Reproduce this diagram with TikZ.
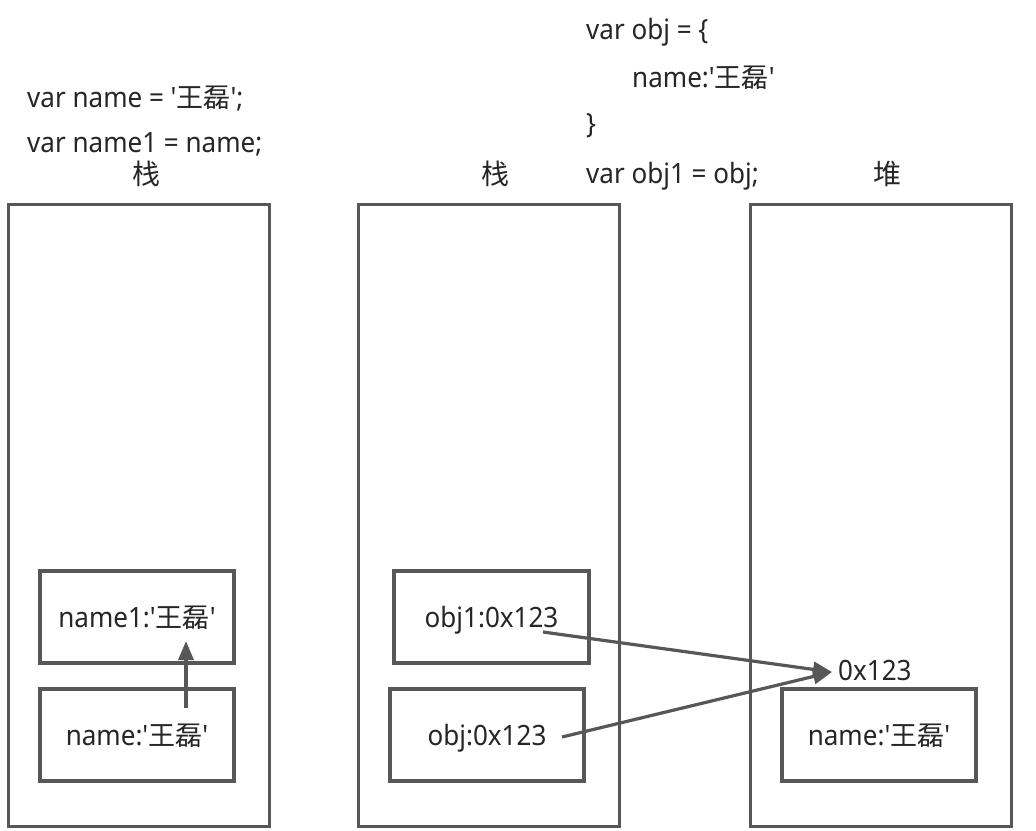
\documentclass[tikz,border=0pt]{standalone}
\usepackage{fontspec}
\setmainfont{Noto Sans}[Ligatures=TeXOff,FakeStretch=0.93]
\newfontfamily\cjk{Noto Sans CJK SC}[Ligatures=TeXOff]
\newcommand\wl{{\cjk\fontsize{27}{30}\selectfont 王磊}}
\usetikzlibrary{arrows.meta}
\definecolor{linegray}{HTML}{575757}
\definecolor{txt}{HTML}{262626}
\begin{document}
\begin{tikzpicture}[x=1pt,y=-1pt,
  every node/.style={text=txt,font=\fontsize{28}{32}\selectfont,inner sep=0pt},
  area/.style={draw=linegray,line width=3.2pt,rectangle,anchor=north west,minimum width=261pt,minimum height=622pt},
  cell/.style={draw=linegray,line width=3.2pt,rectangle,minimum width=194pt,minimum height=92pt,text height=25pt,text depth=5pt},
  code/.style={anchor=base west},
  title/.style={anchor=base,font=\cjk\fontsize{28}{32}\selectfont},
  ptr/.style={draw=linegray,line width=3.2pt,-{Triangle[length=19pt,width=15pt]}}]
\useasboundingbox[fill=white] (0,0) rectangle (1036,830);
% big areas
\node[area] (stackA) at (7,203) {};
\node[area] (stackB) at (357,203) {};
\node[area] (heap) at (749,203) {};
% titles
\node[title] (tA) at (146,184) {栈};
\node[title] (tB) at (495,184) {栈};
\node[title] (tH) at (887,184) {堆};
% code
\node[code] (c1) at (27,107) {var name = '\wl';};
\node[code] (c2) at (27,152) {var name1 = name;};
\node[code] (c3) at (586,39) {var obj = \{};
\node[code] (c4) at (632,87) {name:'\wl'};
\node[code] (c5) at (586,133) {\}};
\node[code] (c6) at (586,183) {var obj1 = obj;};
% cells
\node[cell] (name1) at (137,617) {name1:'\wl'};
\node[cell] (name) at (137,735) {name:'\wl'};
\node[cell,minimum width=195pt] (obj1) at (491.5,617) {obj1:0x123};
\node[cell] (obj) at (487,735) {obj:0x123};
\node[cell] (hname) at (879,735) {name:'\wl'};
\node[code] (addr) at (838,680) {0x123};
% connector ends
\coordinate (s0) at (186,708);
\coordinate (e0) at (186,641);
\coordinate (s1) at (543,632);
\coordinate (s2) at (562,737);
\coordinate (tip) at (832,672);
\draw[ptr] (s0) -- (e0);
\draw[ptr] (s1) -- (tip);
\draw[ptr] (s2) -- (tip);
\end{tikzpicture}
\end{document}
